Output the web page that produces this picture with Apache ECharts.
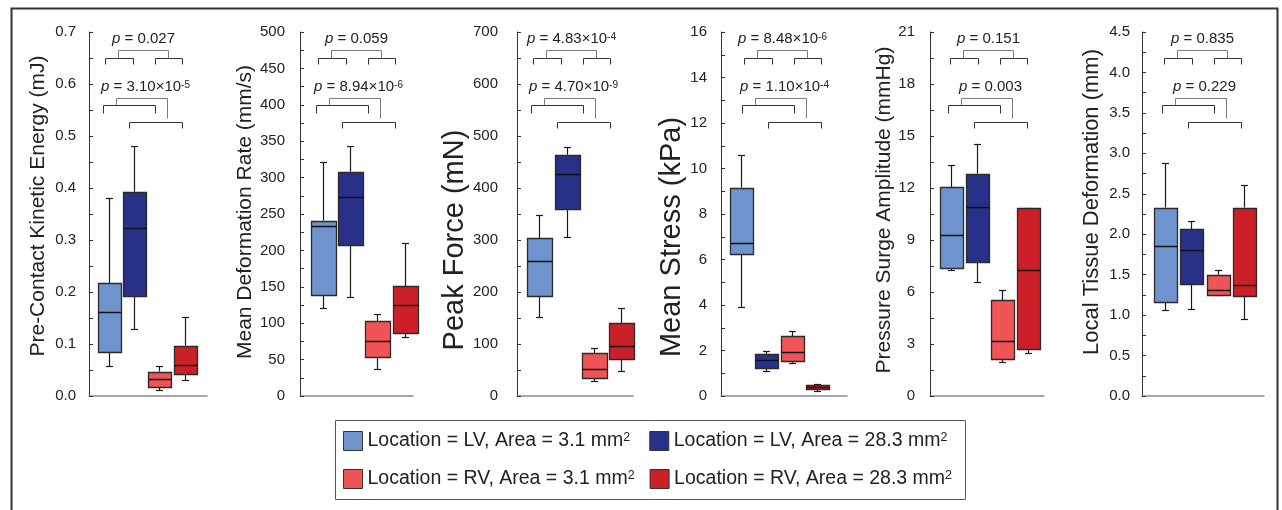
<!DOCTYPE html>
<html>
<head>
<meta charset="utf-8">
<script src="https://cdn.jsdelivr.net/npm/echarts@6/dist/echarts.min.js"></script>
<style>
  html, body { margin: 0; padding: 0; background: #fff; }
  #chart { width: 1282px; height: 510px; }
</style>
</head>
<body>
<div id="chart"></div>
<script>
// legend groups, in box order inside each panel
var groups = [
  "Location = LV, Area = 3.1 mm2",
  "Location = LV, Area = 28.3 mm2",
  "Location = RV, Area = 3.1 mm2",
  "Location = RV, Area = 28.3 mm2"
];

// box stats per group: [low whisker, Q1, median, Q3, high whisker]
var kineticEnergy = [[0.058, 0.085, 0.161, 0.217, 0.380], [0.128, 0.192, 0.324, 0.393, 0.481], [0.012, 0.017, 0.032, 0.047, 0.057], [0.030, 0.042, 0.060, 0.097, 0.151]];
var deformationRate = [[121, 139, 233, 241, 322], [136, 208, 274, 308, 343], [37, 54, 76, 103, 113], [81, 87, 125, 151, 210]];
var peakForce = [[151, 192, 260, 303, 349], [306, 360, 426, 464, 479], [28, 34, 51, 82, 93], [49, 72, 97, 140, 169]];
var meanStress = [[3.93, 6.23, 6.73, 9.16, 10.59], [1.08, 1.22, 1.57, 1.83, 1.99], [1.44, 1.52, 1.92, 2.62, 2.87], [0.22, 0.29, 0.40, 0.48, 0.54]];
var pressureSurge = [[7.27, 7.38, 9.27, 12.06, 13.35], [6.60, 7.71, 10.90, 12.83, 14.54], [1.96, 2.13, 3.17, 5.52, 6.12], [2.48, 2.71, 7.27, 10.85, 10.85]];
var tissueDeformation = [[1.06, 1.16, 1.85, 2.33, 2.88], [1.08, 1.39, 1.81, 2.06, 2.16], [1.245, 1.25, 1.31, 1.50, 1.56], [0.95, 1.24, 1.37, 2.33, 2.61]];

var panelData = [kineticEnergy, deformationRate, peakForce, meanStress, pressureSurge, tissueDeformation];
var axisTitles = [
  "Pre-Contact Kinetic Energy (mJ)",
  "Mean Deformation Rate (mm/s)",
  "Peak Force (mN)",
  "Mean Stress (kPa)",
  "Pressure Surge Amplitude (mmHg)",
  "Local Tissue Deformation (mm)"
];
var axisMax = [0.7, 500, 700, 16, 21, 4.5];
var axisStep = [0.1, 50, 100, 2, 3, 0.5];
var pTop = ["0.027", "0.059", "4.83×10^-4", "8.48×10^-6", "0.151", "0.835"];
var pBottom = ["3.10×10^-5", "8.94×10^-6", "4.70×10^-9", "1.10×10^-4", "0.003", "0.229"];

// layout of each panel (pixels / axis units); nameShift > 0 moves the title down
var panels = [
  { left: 89, width: 118, xMin: 0.206, xMax: 4.889, bracketAt: 0.841, nameGap: 40, nameSize: 21, nameShift: -8, margin: 13, dec: 1 },
  { left: 300, width: 113, xMin: 0.153, xMax: 4.312, bracketAt: 0.815, nameGap: 43, nameSize: 21, nameShift: -2, margin: 15, dec: 0 },
  { left: 517, width: 116, xMin: 0.177, xMax: 4.44, bracketAt: 0.755, nameGap: 41, nameSize: 29, nameShift: 26, margin: 19, dec: 0 },
  { left: 721, width: 126, xMin: 0.21, xMax: 5.184, bracketAt: 1.13, nameGap: 33, nameSize: 29, nameShift: 23, margin: 14, dec: 0 },
  { left: 930, width: 114, xMin: 0.182, xMax: 4.623, bracketAt: 0.961, nameGap: 35, nameSize: 21, nameShift: -4, margin: 15, dec: 0 },
  { left: 1142, width: 122, xMin: 0.127, xMax: 4.76, bracketAt: 0.974, nameGap: 39, nameSize: 22, nameShift: -12, margin: 12, dec: 1 }
];
var colors = ["#6f93cc", "#293087", "#f05456", "#cc2028"];
var FONT = "Liberation Sans";
var BOX_W = 0.91;

function px(v) {
  return Math.round(v) + 0.5;
}

function renderBox(params, api) {
  var x = api.value(0);
  var lo = api.coord([x, api.value(1)]);
  var q1 = api.coord([x, api.value(2)]);
  var md = api.coord([x, api.value(3)]);
  var q3 = api.coord([x, api.value(4)]);
  var hi = api.coord([x, api.value(5)]);
  var w = api.size([BOX_W, 0])[0];
  var cx = px(lo[0]);
  var l = px(cx - w / 2), r = px(cx + w / 2);
  var line = { stroke: "#1a1a1a", lineWidth: 1.2 };
  return {
    type: "group",
    children: [
      { type: "line", shape: { x1: cx, y1: px(hi[1]), x2: cx, y2: q3[1] }, style: line },
      { type: "line", shape: { x1: cx, y1: q1[1], x2: cx, y2: px(lo[1]) }, style: line },
      { type: "line", shape: { x1: cx - 3.5, y1: px(hi[1]), x2: cx + 3.5, y2: px(hi[1]) }, style: line },
      { type: "line", shape: { x1: cx - 3.5, y1: px(lo[1]), x2: cx + 3.5, y2: px(lo[1]) }, style: line },
      {
        type: "rect",
        shape: { x: l, y: px(q3[1]), width: r - l, height: Math.max(px(q1[1]) - px(q3[1]), 1) },
        style: { fill: api.visual("color"), stroke: "#2b2b2b", lineWidth: 1.3 }
      },
      { type: "line", shape: { x1: l, y1: px(md[1]), x2: r, y2: px(md[1]) }, style: { stroke: "#111", lineWidth: 1.5 } }
    ]
  };
}

function pText(v) {
  var parts = v.split("^");
  var s = "{i|p}{n| = " + parts[0] + "}";
  if (parts.length > 1) s += "{s|" + parts[1] + "}";
  return s;
}

var pRich = {
  i: { fontFamily: FONT, fontSize: 15, fontStyle: "italic", fill: "#222", color: "#222" },
  n: { fontFamily: FONT, fontSize: 15, fill: "#222", color: "#222" },
  s: { fontFamily: FONT, fontSize: 10, fill: "#222", color: "#222", verticalAlign: "top" }
};

function bracketRenderer(p) {
  return function (params, api) {
    var max = axisMax[p];
    var a = api.coord([api.value(0), 0])[0];
    var Y = function (f) { return px(api.coord([0, max * f])[1]); };
    var X = function (d) { return px(a + d); };
    var dark = { stroke: "#333", lineWidth: 1, fill: null };
    var grey = { stroke: "#7a7a7a", lineWidth: 1, fill: null };
    function br(x1, x2, yTop, yL, yR, st) {
      return {
        type: "polyline",
        shape: { points: [[X(x1), Y(yL)], [X(x1), Y(yTop)], [X(x2), Y(yTop)], [X(x2), Y(yR)]] },
        style: st
      };
    }
    return {
      type: "group",
      children: [
        br(0, 28, 0.9294, 0.9113, 0.9113, dark),
        br(50, 77, 0.9294, 0.9113, 0.9113, dark),
        br(13, 63, 0.9505, 0.9294, 0.9294, grey),
        br(-2, 50, 0.7986, 0.7783, 0.7783, dark),
        br(24, 77, 0.7536, 0.7371, 0.7371, dark),
        br(11, 62, 0.8187, 0.7986, 0.7637, grey),
        {
          type: "text", x: X(38), y: api.coord([0, max * 0.98])[1],
          style: { text: pText(pTop[p]), rich: pRich, align: "center", verticalAlign: "middle", fontFamily: FONT, fontSize: 15, fill: "#222" }
        },
        {
          type: "text", x: X(40), y: api.coord([0, max * 0.848])[1],
          style: { text: pText(pBottom[p]), rich: pRich, align: "center", verticalAlign: "middle", fontFamily: FONT, fontSize: 15, fill: "#222" }
        }
      ]
    };
  };
}

var grids = [], xAxes = [], yAxes = [], series = [];
panels.forEach(function (pn, p) {
  grids.push({ left: pn.left, top: 32, width: pn.width, height: 364 });
  xAxes.push({
    gridIndex: p, type: "value", min: pn.xMin, max: pn.xMax,
    axisLine: { show: true, onZero: false, lineStyle: { color: "#8a8a8a", width: 1.5 } },
    axisTick: { show: false }, axisLabel: { show: false }, splitLine: { show: false }
  });
  var step = axisStep[p];
  var sh = pn.nameShift;
  yAxes.push({
    gridIndex: p, type: "value", min: 0, max: axisMax[p], interval: step / 2,
    name: axisTitles[p], nameLocation: "middle", nameGap: pn.nameGap,
    nameTextStyle: {
      fontFamily: FONT, fontSize: pn.nameSize, color: "#222",
      padding: sh > 0 ? [0, 2 * sh, 0, 0] : [0, 0, 0, -2 * sh]
    },
    axisLine: { show: true, onZero: false, lineStyle: { color: "#333", width: 1 } },
    axisTick: { show: true, inside: true, length: 4, lineStyle: { color: "#333" } },
    axisLabel: {
      margin: pn.margin, fontFamily: FONT, fontSize: 15, color: "#222",
      formatter: function (v) {
        var k = v / step;
        return Math.abs(k - Math.round(k)) < 1e-6 ? v.toFixed(pn.dec) : "";
      }
    },
    splitLine: { show: false }
  });
  panelData[p].forEach(function (stats, g) {
    series.push({
      type: "custom", name: groups[g], xAxisIndex: p, yAxisIndex: p,
      itemStyle: { color: colors[g] },
      encode: { x: 0, y: [1, 2, 3, 4, 5] },
      data: [[g + 1].concat(stats)],
      renderItem: renderBox, z: 3
    });
  });
  series.push({
    type: "custom", xAxisIndex: p, yAxisIndex: p,
    encode: { x: 0, y: 1 },
    data: [[pn.bracketAt, 0]],
    renderItem: bracketRenderer(p), z: 4, silent: true
  });
});

function legendRow(names, top, gap) {
  return {
    data: names, left: 343, top: top, orient: "horizontal", padding: 0,
    icon: "rect", itemWidth: 19, itemHeight: 19, itemGap: gap, itemTextGap: 5,
    selectedMode: false,
    itemStyle: { borderColor: "#333", borderWidth: 1 },
    formatter: function (name) { return "{t|" + name.slice(0, -1) + "}{s|2}"; },
    textStyle: {
      fontFamily: FONT, fontSize: 19.5, color: "#222",
      rich: {
        t: { fontFamily: FONT, fontSize: 19.5, color: "#222" },
        s: { fontFamily: FONT, fontSize: 12.5, color: "#222", verticalAlign: "top" }
      }
    }
  };
}

var chart = echarts.init(document.getElementById("chart"), null, { renderer: "canvas" });
chart.setOption({
  backgroundColor: "#fff",
  animation: false,
  grid: grids,
  xAxis: xAxes,
  yAxis: yAxes,
  legend: [legendRow([groups[0], groups[1]], 431, 19), legendRow([groups[2], groups[3]], 469, 15)],
  graphic: [
    { type: "rect", left: 9, top: 6, shape: { width: 1266, height: 530 }, style: { fill: null, stroke: "#333", lineWidth: 2 }, silent: true },
    { type: "rect", left: 333, top: 418, shape: { width: 630, height: 79 }, style: { fill: null, stroke: "#555", lineWidth: 1 }, silent: true }
  ],
  series: series
});
window.addEventListener("resize", function () {
  chart.resize();
});
</script>
</body>
</html>
